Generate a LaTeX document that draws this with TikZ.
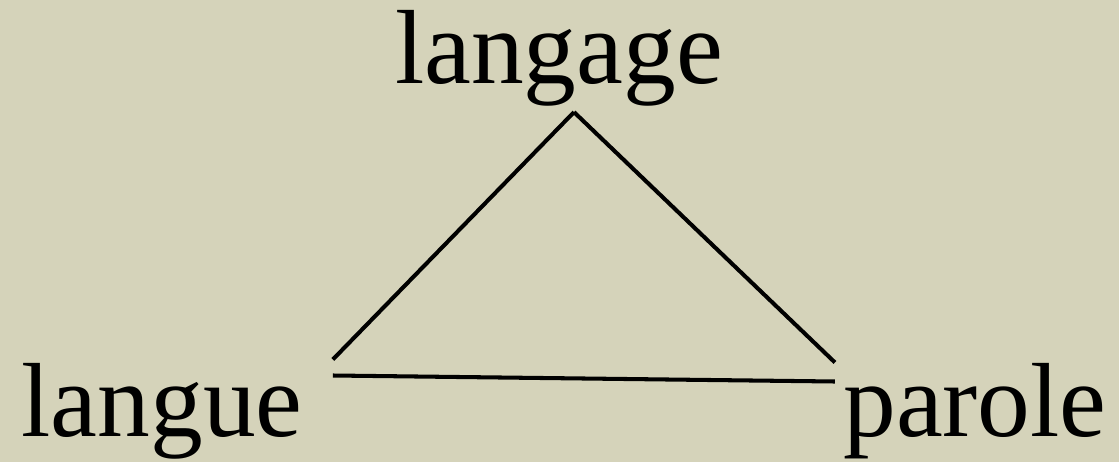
\documentclass[tikz,border=0pt]{standalone}
\usepackage{fontspec}
\usetikzlibrary{calc}
\setmainfont{Liberation Serif}
\definecolor{paper}{RGB}{213,211,186}
\begin{document}
\begin{tikzpicture}[x=0.02cm,y=-0.02cm, every node/.style={font=\fontsize{60}{70}\selectfont, inner sep=0pt, anchor=base}]
\fill[paper] (0,0) rectangle (1119,462);
\useasboundingbox (0,0) rectangle (1119,462);
\node (langage) at (559,84) {langage};
\node (langue) at (162,437) {langue};
\node (parole) at (975,437) {parole};
\coordinate (top) at ($(langage.south)+(15,5)$);
\coordinate (left) at ($(langue.north east)+(30,-4)$);
\coordinate (right) at ($(parole.north west)+(-8,-1)$);
\coordinate (leftb) at ($(langue.north east)+(30,12)$);
\coordinate (rightb) at ($(parole.north west)+(-8,18)$);
\draw[line width=2.3pt] (top) -- (left);\draw[line width=2.3pt] (top) -- (right);
\draw[line width=2.3pt] (leftb) -- (rightb);
\end{tikzpicture}
\end{document}
